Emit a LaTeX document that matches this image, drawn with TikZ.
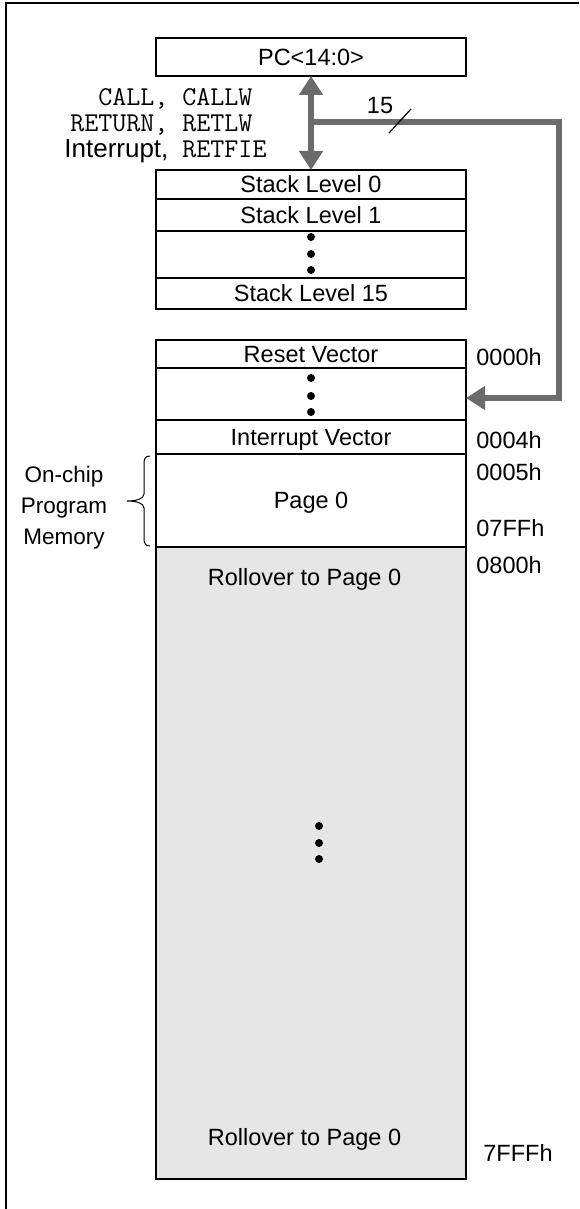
\documentclass[tikz,border=0pt]{standalone}
\usepackage{fontspec}
\setmainfont{Liberation Sans}
\usetikzlibrary{arrows.meta,positioning}

\definecolor{busgray}{HTML}{6B6B6B}
\definecolor{romfill}{HTML}{E6E6E6}

\newcommand{\opcode}[1]{{\fontsize{13.6pt}{13pt}\selectfont\ttfamily #1}}

\tikzset{bustip/.tip={Triangle[length=9.5pt, width=11.5pt]}}

\begin{document}
\begin{tikzpicture}[x=0.5pt, y=-0.5pt, line join=miter,
    every node/.style={font=\fontsize{11.75pt}{14pt}\selectfont},
    txt/.style={text height=8.4pt, text depth=0pt},
    memrow/.style={draw, line width=1pt, minimum width=155pt, inner sep=0pt,
        outer sep=0pt, txt},
    addr/.style={anchor=west, inner sep=0pt, txt},
    bus/.style={line width=3pt, busgray}]

    \useasboundingbox (0,0) rectangle (579,1209);

    % ------------------------------------------------------------------
    % 1. Outer frame (left and top edge)
    % ------------------------------------------------------------------
    \draw[line width=1pt] (6,1209) -- (6,3) -- (579,3);

    % ------------------------------------------------------------------
    % 2. Program counter and hardware stack
    % ------------------------------------------------------------------
    \node[memrow, minimum height=19pt] (pc) at (311,57) {PC<14:0>};

    \node[memrow, minimum height=14.5pt] (stk0) at (311,184.5) {Stack Level 0};
    \node[memrow, minimum height=16pt, below=0pt of stk0] (stk1) {Stack Level 1};
    \node[memrow, minimum height=23.5pt, below=0pt of stk1] (stkdots) {};
    \node[memrow, minimum height=15.5pt, below=0pt of stkdots] (stk15) {Stack Level 15};

    \foreach \y in {237,254,270}
        \fill (311,\y) circle (2pt);

    % push / pop arrow between PC and stack
    \draw[bus, bustip-bustip] (pc) -- (stk0);

    % instructions that push / pop
    \node[anchor=west, inner sep=0pt, font=\fontsize{13pt}{13pt}\selectfont] (oplist) at (64,126)
        {\begin{tabular}{@{}r@{}l@{}}
            \opcode{CALL,}   & \opcode{\ CALLW}  \\
            \opcode{RETURN,} & \opcode{\ RETLW}  \\
            Interrupt,       & \opcode{\ RETFIE} \\
        \end{tabular}};

    % ------------------------------------------------------------------
    % 3. Program memory map
    % ------------------------------------------------------------------
    \node[memrow, minimum height=14pt] (reset) at (311,354) {Reset Vector};
    \node[memrow, minimum height=26pt, below=0pt of reset] (vecdots) {};
    \node[memrow, minimum height=17pt, below=0pt of vecdots] (intvec) {Interrupt Vector};
    \node[memrow, minimum height=46.5pt, below=0pt of intvec] (page0) {Page 0};
    \node[memrow, minimum height=316pt, below=0pt of page0, fill=romfill] (rollover) {};
    \draw[line width=1.4pt] (page0.north west) -- (page0.north east);

    \foreach \y in {378,396,412}
        \fill (311,\y) circle (2pt);

    \node[txt] (rolltop) at (304.5,577) {Rollover to Page 0};
    \node[txt] (rollbot) at (304.5,1137) {Rollover to Page 0};
    \foreach \y in {826,843,859}
        \fill (319,\y) circle (2pt);

    % addresses
    \node[addr] (a0000) at (476,357) {0000h};
    \node[addr] (a0004) at (476,440) {0004h};
    \node[addr] (a0005) at (476,472) {0005h};
    \node[addr] (a07ff) at (476,528) {07FFh};
    \node[addr] (a0800) at (476,565) {0800h};
    \node[addr] (a7fff) at (483,1153) {7FFFh};

    % on-chip memory brace
    \draw[line width=0.5pt] (150,456) .. controls (145,456) and (144,459) .. (144,464)
        -- (144,494) .. controls (144,499) and (136,501) .. (127,501)
        .. controls (136,501) and (144,503) .. (144,508)
        -- (144,538) .. controls (144,543) and (145,546) .. (150,546);
    \node[align=center, font=\fontsize{11.25pt}{15.5pt}\selectfont] (onchip) at (64,508)
        {On-chip\\Program\\Memory};

    % ------------------------------------------------------------------
    % 4. 15-bit path from PC to the vector area
    % ------------------------------------------------------------------
    \coordinate (tap) at (311,122);
    \coordinate (busturn) at (559,122);
    \draw[bus, -bustip] (tap) -- (busturn) |- ([yshift=-2pt]vecdots.east);
    \draw[line width=0.6pt] (389,133) -- (411,109);
    \node (buswidth) at (380,106) {15};

\end{tikzpicture}
\end{document}
